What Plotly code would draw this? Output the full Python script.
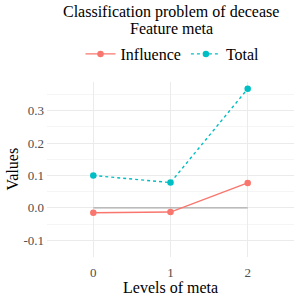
import plotly.graph_objects as go

levels = [0, 1, 2]
influence = [-0.015, -0.013, 0.077]
total = [0.100, 0.078, 0.368]
y_ticks = [-0.1, 0.0, 0.1, 0.2, 0.3]
y_tick_labels = ["-0.1", "0.0", "0.1", "0.2", "0.3"]
x_ticks = [0, 1, 2]
zero_line_x = [0, 2]
zero_line_y = [0, 0]
title_lines = ["Classification problem of decease", "Feature meta"]

FONT = "Liberation Serif, DejaVu Serif, serif"

fig = go.Figure()
fig.add_trace(go.Scatter(x=zero_line_x, y=zero_line_y, mode="lines",
                         line=dict(color="#ABABAB", width=1.4),
                         showlegend=False, hoverinfo="skip"))
fig.add_trace(go.Scatter(x=levels, y=influence, mode="lines+markers", name="Influence",
                         line=dict(color="#F8766D", width=1.4),
                         marker=dict(color="#F8766D", size=6.5)))
fig.add_trace(go.Scatter(x=levels, y=total, mode="lines+markers", name="Total",
                         line=dict(color="#00BFC4", width=1.4, dash="dot"),
                         marker=dict(color="#00BFC4", size=6.5)))

title_x = (171 - 47) / 247
fig.update_layout(
    template="none",
    width=300, height=300,
    paper_bgcolor="white", plot_bgcolor="white",
    margin=dict(l=47, r=6, t=82, b=43),
    font=dict(family=FONT, color="#1a1a1a", size=13),
    showlegend=True,
    legend=dict(orientation="h", xref="container", yref="container",
                x=0.575, xanchor="center", y=1 - 54 / 300, yanchor="middle",
                font=dict(family=FONT, size=16, color="black"),
                itemwidth=30, bgcolor="rgba(0,0,0,0)", borderwidth=0),
    xaxis=dict(range=[-0.6, 2.6], tickvals=x_ticks, ticktext=[str(v) for v in x_ticks],
               showgrid=True, gridcolor="#EBEBEB", gridwidth=1, zeroline=False,
               showline=False, ticks="", automargin=False, ticklen=0, ticklabelstandoff=6,
               tickfont=dict(family=FONT, size=13, color="#4d4d4d")),
    yaxis=dict(range=[-0.152, 0.389], tickvals=y_ticks, ticktext=y_tick_labels,
               showgrid=True, gridcolor="#EBEBEB", gridwidth=1, zeroline=False,
               showline=False, ticks="", automargin=False, ticklen=0, ticklabelstandoff=2,
               tickfont=dict(family=FONT, size=13, color="#4d4d4d"),
               minor=dict(showgrid=True, gridcolor="#F5F5F5", gridwidth=1, dtick=0.1, tick0=0.05)),
    annotations=[
        dict(text=title_lines[0], xref="paper", yref="paper", x=title_x,
             y=1 + (82 - 12) / 175, xanchor="center", yanchor="middle", showarrow=False,
             font=dict(family=FONT, size=16, color="black")),
        dict(text=title_lines[1], xref="paper", yref="paper", x=title_x,
             y=1 + (82 - 28) / 175, xanchor="center", yanchor="middle", showarrow=False,
             font=dict(family=FONT, size=16, color="black")),
        dict(text="Levels of meta", xref="paper", yref="paper", x=0.5, y=-(287 - 257) / 175,
             xanchor="center", yanchor="middle", showarrow=False,
             font=dict(family=FONT, size=16, color="black")),
        dict(text="Values", xref="paper", yref="paper", x=-(47 - 12) / 247, y=0.5,
             xanchor="center", yanchor="middle", showarrow=False, textangle=-90,
             font=dict(family=FONT, size=16, color="black")),
    ],
)

fig.write_html("out.html", config={"displayModeBar": False},
               post_script="document.body.style.margin='0';document.body.style.padding='0';")
